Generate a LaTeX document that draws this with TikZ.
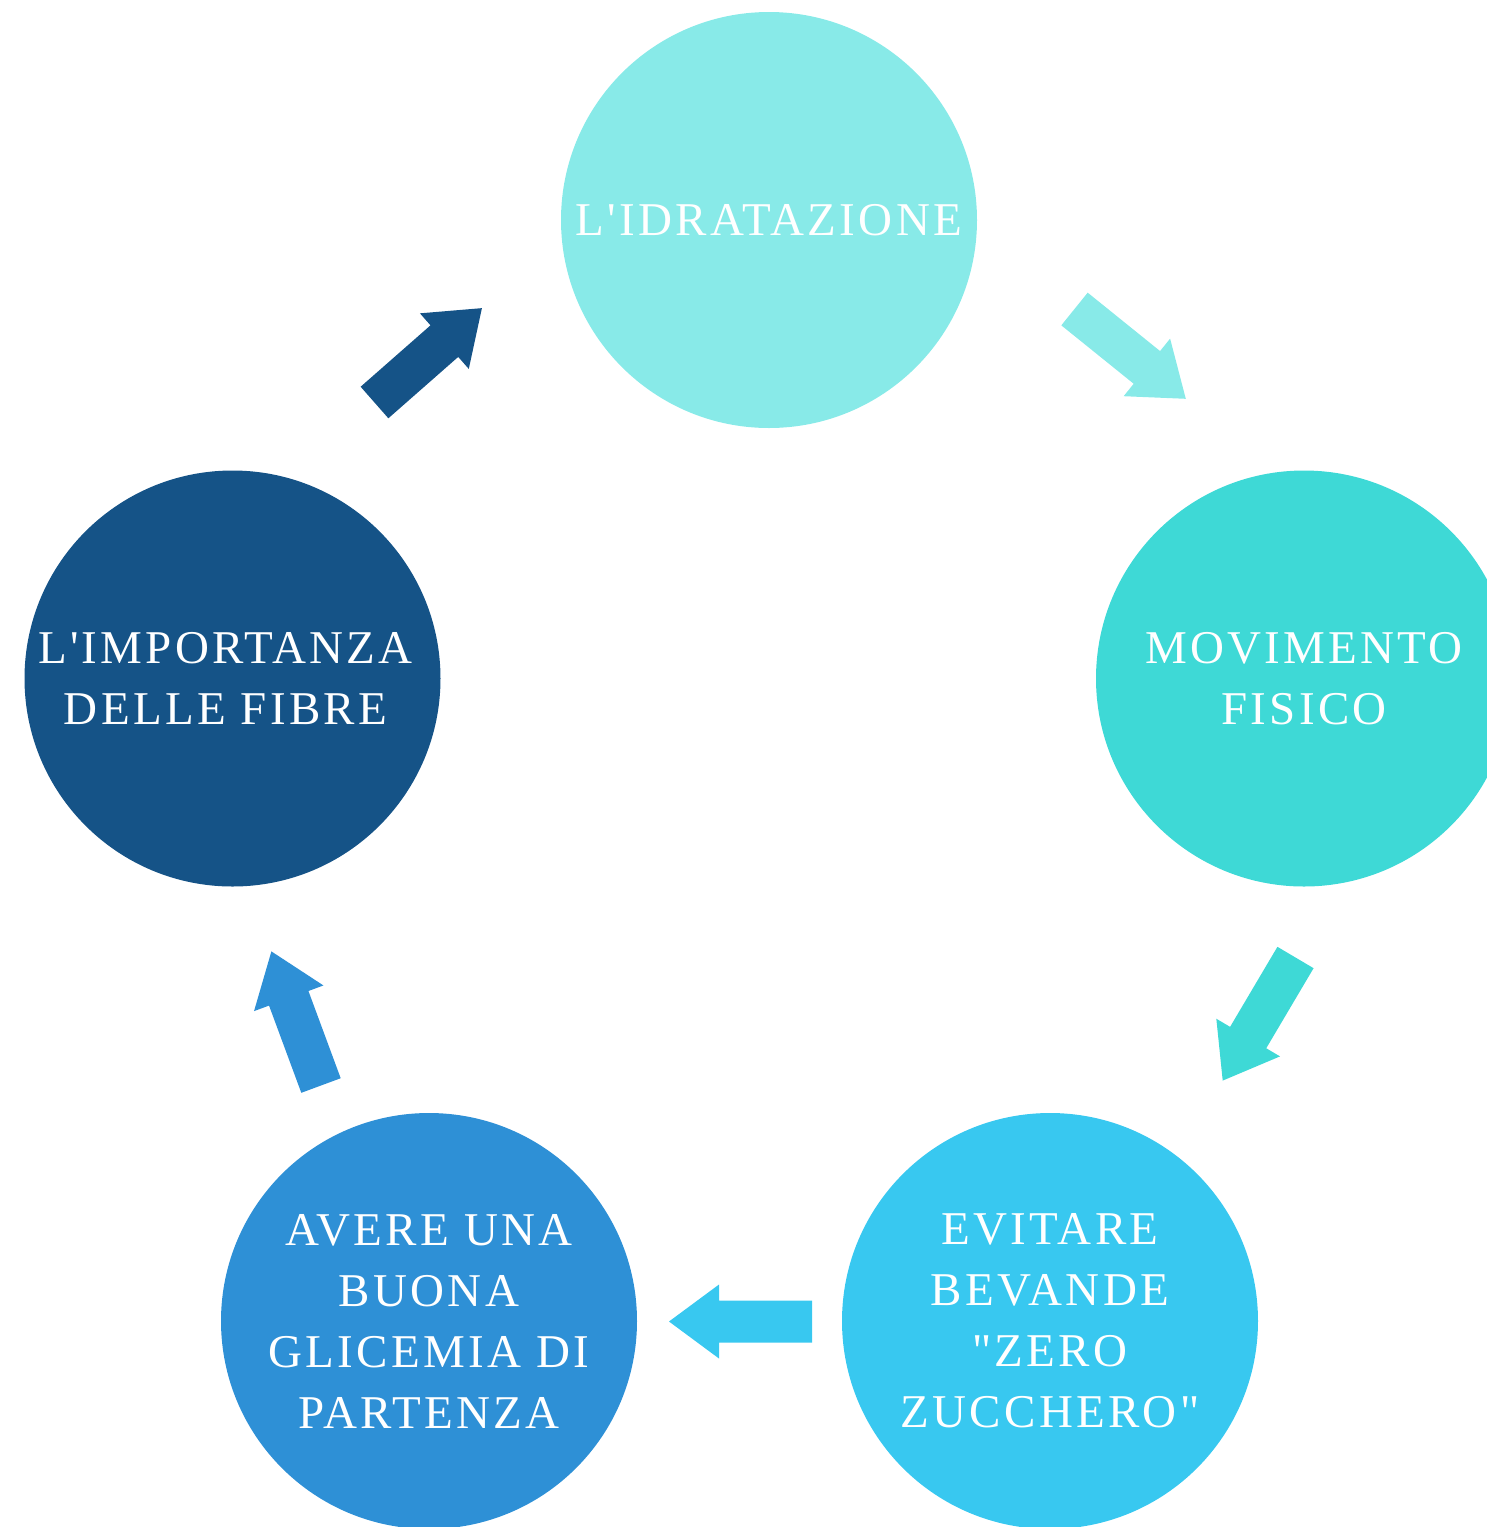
\documentclass[tikz,border=0pt]{standalone}
\usepackage{fontspec}
\setmainfont{Liberation Serif}[LetterSpace=7.0, Ligatures=TeXOff]
\definecolor{cTop}{HTML}{88EAE8}
\definecolor{cRight}{HTML}{3ED9D6}
\definecolor{cBR}{HTML}{38C8F0}
\definecolor{cBL}{HTML}{2E90D6}
\definecolor{cLeft}{HTML}{155387}
\tikzset{
  bubble/.style={circle, minimum size=416pt, inner sep=0pt, text=white, align=center,
    font=\fontsize{47pt}{61pt}\selectfont},
  label text/.style={text=white, align=center, inner sep=0pt, font=\fontsize{47pt}{61pt}\selectfont},
  barrow/.pic={\path[pic actions] (0,-21) -- (93,-21) -- (93,-37) -- (143,0) -- (93,37) -- (93,21) -- (0,21) -- cycle;}
}
\begin{document}
\begin{tikzpicture}[x=1pt,y=1pt]
\useasboundingbox (0,0) rectangle (1487,-1527);
\node[bubble, fill=cTop]   (top)   at (769,-220)   {L'IDRATAZIONE};
\node[bubble, fill=cRight] (right) at (1304,-678.5) {MOVIMENTO\\FISICO};
\node[bubble, fill=cBR]    (br)    at (1050,-1321) {EVITARE\\BEVANDE\\"ZERO\\ZUCCHERO"};
\node[bubble, fill=cBL]    (bl)    at (429,-1321)  {AVERE UNA\\BUONA\\GLICEMIA DI\\PARTENZA};
\node[bubble, fill=cLeft]  (left)  at (232.5,-678.5) {};
\node[label text] (lefttext) at (225.5,-678.5) {L'IMPORTANZA\\DELLE FIBRE};
\pic[fill=cLeft, rotate=41.3]   (a1) at (374.5,-402.5) {barrow};
\pic[fill=cTop, rotate=-38.9]   (a2) at (1074.5,-309)  {barrow};
\pic[fill=cRight, rotate=239.4] (a3) at (1295.5,-957.5) {barrow};
\pic[fill=cBR, rotate=180]      (a4) at (812,-1321.5)  {barrow};
\pic[fill=cBL, rotate=110.3]    (a5) at (321,-1085.5)  {barrow};
\end{tikzpicture}
\end{document}
